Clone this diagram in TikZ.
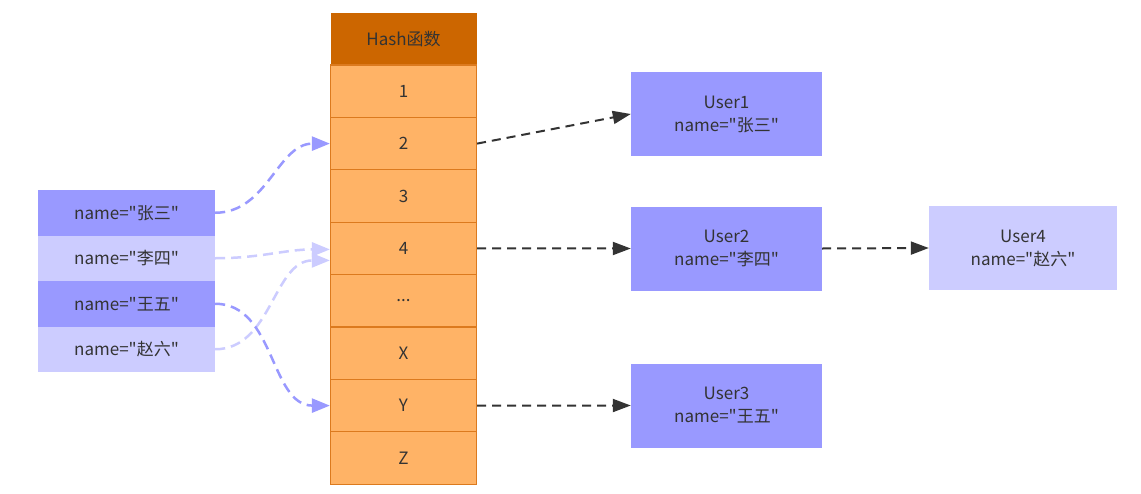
\documentclass[tikz,border=0pt]{standalone}
\usepackage{fontspec}
\newfontfamily\cjkfont{Noto Sans CJK SC}
\usetikzlibrary{arrows.meta}
\definecolor{hdrc}{HTML}{CC6600}
\definecolor{cellc}{HTML}{FFB366}
\definecolor{celledge}{HTML}{DC7A1E}
\definecolor{dkb}{HTML}{9999FF}
\definecolor{ltb}{HTML}{CCCCFF}
\definecolor{txtc}{HTML}{333333}
\definecolor{arrc}{HTML}{333333}
\begin{document}
\begin{tikzpicture}[x=1pt,y=-1pt,
  every node/.style={font=\cjkfont\fontsize{17}{23}\selectfont, text=txtc, inner sep=0pt, align=center},
  hdrbox/.style={rectangle, fill=hdrc, minimum width=146pt, minimum height=52pt},
  cellbox/.style={rectangle, fill=cellc, draw=celledge, line width=1.2pt, minimum width=146pt, minimum height=52.4pt},
  namebox/.style={rectangle, fill=#1, minimum width=177pt, minimum height=45.5pt},
  userbox/.style={rectangle, fill=#1, minimum width=191pt, minimum height=84pt},
  darr/.style={draw=arrc, dash pattern=on 9pt off 6pt, line width=2pt, -{Triangle[length=18pt,width=13pt]}},
  barr/.style={draw=#1, dash pattern=on 10pt off 6pt, line width=2.5pt, -{Triangle[length=18pt,width=14pt,fill=#1]}}
]
\useasboundingbox (0,0) rectangle (1141,493);
\fill[white] (0,0) rectangle (1141,493);

% hash column
\node[hdrbox] (hdr) at (403.5,39) {Hash函数};
\node[cellbox] (r1) at (403.5,91.2) {1};
\node[cellbox] (r2) at (403.5,143.6) {2};
\node[cellbox] (r3) at (403.5,196.0) {3};
\node[cellbox] (r4) at (403.5,248.4) {4};
\node[cellbox] (rd) at (403.5,300.8) {...};
\node[cellbox] (rx) at (403.5,353.2) {X};
\node[cellbox] (ry) at (403.5,405.6) {Y};
\node[cellbox] (rz) at (403.5,458.0) {Z};

% name boxes
\node[namebox=dkb] (lb1) at (126.5,212.75) {name="张三"};
\node[namebox=ltb] (lb2) at (126.5,258.25) {name="李四"};
\node[namebox=dkb] (lb3) at (126.5,303.75) {name="王五"};
\node[namebox=ltb] (lb4) at (126.5,349.25) {name="赵六"};

% user boxes
\node[userbox=dkb] (u1) at (726.5,114) {User1\\name="张三"};
\node[userbox=dkb] (u2) at (726.5,248.5) {User2\\name="李四"};
\node[userbox=dkb] (u3) at (726.5,405.5) {User3\\name="王五"};
\node[userbox=ltb, minimum width=188pt] (u4) at (1023,248) {User4\\name="赵六"};

% blue curves
\draw[barr=ltb] (lb2.east) to[out=0,in=180] ([yshift=-1pt]r4.west);
\draw[barr=ltb] (lb4.east) to[out=0,in=180] ([yshift=-12pt]r4.west);
\draw[barr=dkb] (lb1.east) to[out=0,in=180] (r2.west);
\draw[barr=dkb] (lb3.east) to[out=0,in=180] (ry.west);

% dark arrows
\draw[darr] (r2.east) -- (u1.west);
\draw[darr] (r4.east) -- (u2.west);
\draw[darr] (ry.east) -- (u3.west);
\draw[darr] (u2.east) -- (u4.west);
\end{tikzpicture}
\end{document}
